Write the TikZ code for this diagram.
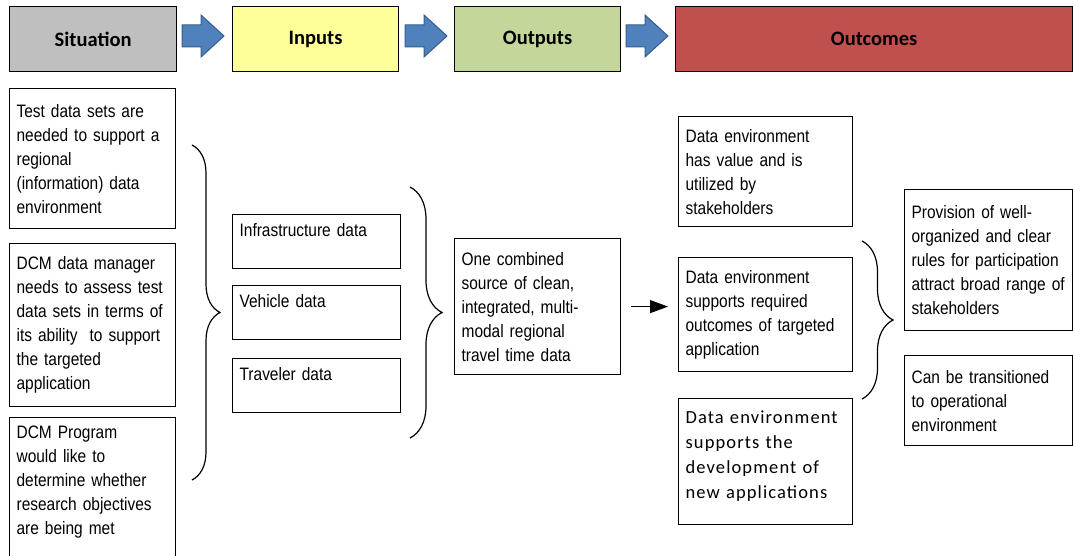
\documentclass[tikz,border=0pt]{standalone}
\usepackage{fontspec}
\setmainfont{Liberation Sans}[FakeStretch=0.86, WordSpace=0.6]
\newfontfamily\headfont{Carlito}
\newfontfamily\spacedfont{Carlito}[LetterSpace=6]
\usetikzlibrary{decorations.pathreplacing, arrows.meta}

\definecolor{sitgray}{RGB}{191,191,191}
\definecolor{inyellow}{RGB}{255,255,153}
\definecolor{outgreen}{RGB}{196,215,155}
\definecolor{outcred}{RGB}{192,80,77}
\definecolor{arrowblue}{RGB}{79,129,189}
\definecolor{arrowedge}{RGB}{56,93,138}

\tikzset{
  head/.style={draw, line width=1.2pt, anchor=north west, minimum height=65pt,
    font=\headfont\bfseries\fontsize{20.5}{24}\selectfont},
  cell/.style={draw, line width=1.2pt, anchor=north west, align=left,
    inner xsep=7pt, inner ysep=3pt, font=\fontsize{18}{24}\selectfont},
  curly/.style={decorate, decoration={brace, amplitude=#1}, line width=1.2pt},
  bluearrow/.style={fill=arrowblue, draw=arrowedge, line width=1pt}
}

\begin{document}
\begin{tikzpicture}[x=1pt, y=-1pt]
\useasboundingbox (0,0) rectangle (1073,556);
% Header row
    \node[head, fill=sitgray, minimum width=167pt] (sit) at (9,6) {Situation};
    \node[head, fill=inyellow, minimum width=166pt] (inp) at (232,6) {Inputs};
    \node[head, fill=outgreen, minimum width=166pt] (outp) at (454,6) {Outputs};
    \node[head, fill=outcred, minimum width=397pt] (outc) at (675,6) {Outcomes};
    \foreach \ax in {182,405,626}
        \draw[bluearrow] (\ax,25) -- (\ax+19,25) -- (\ax+19,15) -- (\ax+42,36)
            -- (\ax+19,57) -- (\ax+19,47) -- (\ax,47) -- cycle;
% Situation
    \node[cell, text width=152pt, minimum height=140pt] (s1) at (9,88)
        {Test data sets are\\ needed to support a\\ regional\\ (information) data\\ environment};
    \node[cell, text width=152pt, minimum height=163pt] (s2) at (9,243)
        {DCM data manager\\ needs to assess test\\ data sets in terms of\\ its ability\ \ to support\\ the targeted\\ application};
    \node[cell, text width=152pt, minimum height=150pt] (s3) at (9,417)
        {DCM Program\\ would like to\\ determine whether\\ research objectives\\ are being met\\ \mbox{}};
% Inputs
    \node[cell, text width=154pt, minimum height=54pt] (infra) at (232,214) {Infrastructure data\\ \mbox{}};
    \node[cell, text width=154pt, minimum height=54pt] (veh) at (232,285) {Vehicle data\\ \mbox{}};
    \node[cell, text width=154pt, minimum height=54pt] (trav) at (232,358) {Traveler data\\ \mbox{}};
% Outputs
    \node[cell, text width=152pt, minimum height=136pt] (out) at (454,238)
        {One combined\\ source of clean,\\ integrated, multi-\\ modal regional\\ travel time data};
% Outcomes
    \node[cell, text width=160pt, minimum height=110pt] (o1) at (678,116)
        {Data environment\\ has value and is\\ utilized by\\ stakeholders};
    \node[cell, text width=160pt, minimum height=114pt] (o2) at (678,257)
        {Data environment\\ supports required\\ outcomes of targeted\\ application};
    \node[cell, text width=160pt, minimum height=126pt,
        font=\spacedfont\fontsize{18.5}{25}\selectfont] (o3) at (678,398)
        {Data environment\\ supports the\\ development of\\ new applications\\[-12pt] \mbox{}};
    \node[cell, text width=154pt, minimum height=141pt] (r1) at (904,189)
        {Provision of well-\\ organized and clear\\ rules for participation\\ attract broad range of\\ stakeholders};
    \node[cell, text width=154pt, minimum height=90pt] (r2) at (904,355)
        {Can be transitioned\\ to operational\\ environment};
% Braces
    \draw[curly=28pt] (192,145) -- (192,480);
    \draw[curly=32pt] (410,187) -- (410,438);
    \draw[curly=31pt] (862,241) -- (862,399);
% Arrow to outcomes
    \draw[-{Triangle[length=18pt, width=13pt]}, line width=1.2pt, shorten <=10pt, shorten >=10pt]
        (out.east) -- (out.east -| o2.west);
\end{tikzpicture}
\end{document}
